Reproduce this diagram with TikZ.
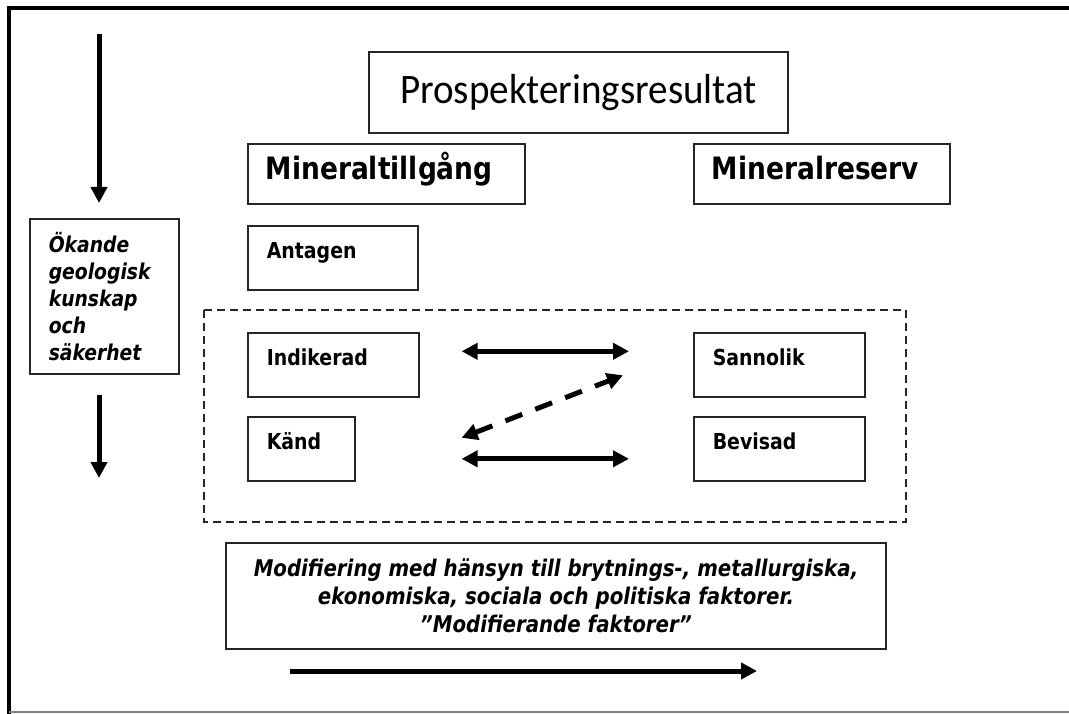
\documentclass[tikz,border=0pt]{standalone}
\usepackage{fontspec}
\setmainfont{Carlito}[FakeStretch=0.93]
\newfontfamily\tahoma{DejaVu Sans}[FakeStretch=0.86]
\usepackage{xcolor}
\usetikzlibrary{arrows.meta,positioning}
\colorlet{ram}{black!85}

\begin{document}
\begin{tikzpicture}[x=1pt,y=-1pt,>={Triangle[length=16pt,width=16pt]},
    pil/.style={line width=5pt,->},
    stor/.style={draw=ram,line width=1.6pt,anchor=north west,inner xsep=18pt,inner ysep=0pt,
      text width=#1,align=left,minimum height=60pt,text height=22pt,text depth=11pt,
      font=\tahoma\bfseries\fontsize{30.8}{33}\selectfont},
    liten/.style={draw=ram,line width=1.6pt,anchor=north west,inner xsep=19pt,inner ysep=0pt,
      text width=#1,align=left,minimum height=64pt,text height=16pt,text depth=14pt,
      font=\tahoma\bfseries\fontsize{22}{24}\selectfont},
    kursiv/.style={draw=ram,line width=1.6pt,inner ysep=0pt,
      font=\tahoma\bfseries\itshape}]
  \useasboundingbox (0,0) rectangle (1069,714);
  % ram runt figuren
  \draw[line width=4.5pt] (9,714) -- (9,8) -- (1069,8);
  \draw[gray,line width=1.5pt] (9,712) -- (1069,712);

  \node[draw=ram,line width=1.6pt,minimum width=419pt,minimum height=81pt,
    font=\fontsize{42}{44}\selectfont] (prosp) at (578.5,92.5) {Prospekteringsresultat};

  \node[stor=241pt] (tillgang) at (247,143) {Mineraltillgång};
  \node[stor=220pt] (reserv) at (693,143) {Mineralreserv};

  \node[liten=132pt] (antagen) at (247,225) {Antagen};
  \node[liten=133pt] (indikerad) at (247,332) {Indikerad};
  \node[liten=69pt] (kand) at (247,416) {Känd};
  \node[liten=133pt] (sannolik) at (693,332) {Sannolik};
  \node[liten=133pt] (bevisad) at (693,416) {Bevisad};

  \draw[ram,line width=1.4pt,dash pattern=on 8pt off 5pt] (204,310) rectangle (906,522);

  \node[kursiv,anchor=north west,inner xsep=19pt,text width=111pt,align=left,minimum height=155pt,
    font=\tahoma\bfseries\itshape\fontsize{21.8}{27}\selectfont] (okande) at (29,218)
    {Ökande\\ geologisk\\ kunskap\\ och\\ säkerhet};

  \node[kursiv,minimum width=660pt,minimum height=106pt,align=center,
    font=\tahoma\bfseries\itshape\fontsize{23}{28}\selectfont] (modif) at (556,596)
    {Modifiering med hänsyn till brytnings-, metallurgiska,\\
     ekonomiska, sociala och politiska faktorer.\\
     ”Modifierande faktorer”};

  % pilar
  \coordinate (kunskapstart) at (99,34);
  \coordinate (kunskapslut) at (99,478);
  \coordinate (modstart) at (290,671);
  \coordinate (modslut) at (757,671);
  \draw[pil] (kunskapstart) -- (kunskapstart |- 0,203);
  \draw[pil] (kunskapstart |- 0,395) -- (kunskapslut);
  \draw[pil,<->] ([xshift=42pt,yshift=13.5pt]indikerad.east) -- ([xshift=-64pt,yshift=13.5pt]sannolik.west);
  \draw[pil,<->] ([xshift=106pt,yshift=-10pt]kand.east) -- ([xshift=-64pt,yshift=-10pt]bevisad.west);
  \draw[pil,<->,dash pattern=on 18pt off 14pt] ([xshift=106pt,yshift=11pt]kand.east) -- ([xshift=-70pt,yshift=-10.5pt]sannolik.west);
  \draw[pil] (modstart) -- (modslut);
\end{tikzpicture}
\end{document}
